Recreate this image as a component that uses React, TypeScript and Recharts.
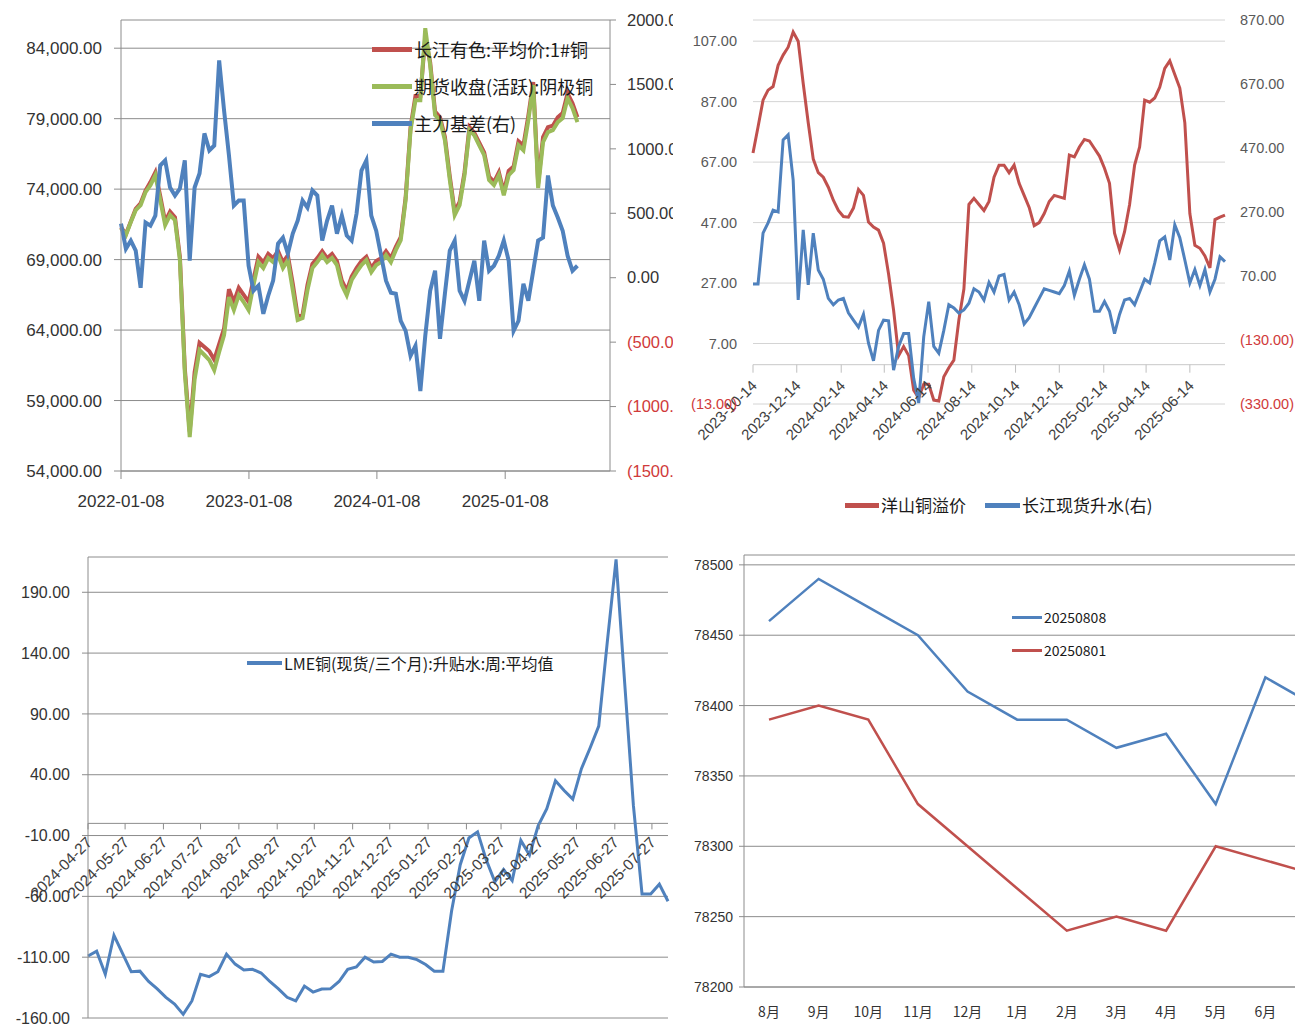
import React from 'react';
import { LineChart, Line, XAxis, YAxis, CartesianGrid, ReferenceLine } from 'recharts';

const NUM_FONT = '"Liberation Sans", Arial, sans-serif';
const CJK_FONT = '"Noto Sans CJK SC", "Liberation Sans", sans-serif';
const RED = '#C0504D';
const GREEN = '#9BBB59';
const BLUE = '#4F81BD';
const NEG_RED = '#D03A3A';

const daysFrom = (start: string, d: string) => Math.round((Date.parse(d) - Date.parse(start)) / 86400000);

// ---- chart 1: 长江有色 / 期货收盘 / 主力基差 (every two weeks from 2022-01-08)
const c1Start = '2022-01-08';
const c1TickLabels = ['2022-01-08', '2023-01-08', '2024-01-08', '2025-01-08'];
const c1LeftTicks = [54000, 59000, 64000, 69000, 74000, 79000, 84000];
const c1RightTicks = [-1500, -1000, -500, 0, 500, 1000, 1500, 2000];
const spotPrice = [
  71300, 70800, 71700, 72600, 73000, 73900, 74500, 75200, 73500, 71700, 72400, 72000, 69200, 61300, 56800, 61000,
  63100, 62800, 62500, 61900, 63000, 64100, 66900, 66000, 67000, 66500, 66000, 67600, 69200, 68800, 69400, 69100,
  69600, 68800, 69300, 67300, 65000, 65100, 67200, 68700, 69100, 69600, 69100, 69400, 68900, 67500, 66800, 67800,
  68400, 68900, 69200, 68400, 68900, 69100, 69600, 69100, 69900, 70600, 73400, 78400, 80600, 80600, 84800, 83000,
  79500, 79100, 77700, 74900, 72400, 73100, 75200, 78400, 78000, 77300, 76600, 74900, 74500, 75200, 73800, 75300,
  75600, 77400, 77100, 79200, 81600, 74400, 77700, 78400, 78500, 79100, 79400, 80800, 80100, 79100,
];
const futuresPrice = [
  71230, 70740, 71660, 72510, 72860, 73790, 74280, 74990, 73220, 71450, 72160, 71800, 68960, 61000, 56400, 60500,
  62580, 62230, 61870, 61160, 62440, 63650, 66340, 65420, 66480, 65990, 65420, 67190, 68820, 68400, 69110, 68820,
  69320, 68400, 68960, 66840, 64710, 64850, 66840, 68400, 68820, 69320, 68820, 69110, 68610, 67190, 66480, 67550,
  68110, 68610, 68960, 68110, 68610, 68820, 69320, 68820, 69670, 70380, 73220, 78180, 80310, 80310, 85420, 82790,
  79250, 78890, 77470, 74640, 72160, 72860, 74990, 78180, 77820, 77110, 76410, 74640, 74280, 74990, 73570, 74990,
  75350, 77110, 76760, 78890, 81380, 74070, 77330, 78040, 78180, 78750, 79040, 80450, 79750, 78750,
];
const mainBasis = [
  420, 225, 288, 210, -78, 428, 404, 482, 871, 910, 700, 638, 692, 910, 132, 700,
  809, 1120, 988, 1026, 1687, 1299, 949, 560, 599, 599, 93, -101, -62, -280, -140, -23,
  264, 311, 187, 342, 443, 599, 544, 677, 638, 288, 443, 560, 342, 482, 327, 288,
  498, 832, 910, 482, 365, 171, -23, -117, -124, -334, -412, -606, -529, -879, -451, -101,
  54, -474, -124, 210, 288, -101, -179, -23, 132, -179, 288, 54, 93, 171, 288, 132,
  -412, -334, -47, -179, 54, 288, 311, 793, 560, 467, 365, 171, 54, 93,
];

// ---- chart 2: 洋山铜溢价 / 长江现货升水 (weekly from 2023-10-14)
const c2Start = '2023-10-14';
const c2TickLabels = [
  '2023-10-14', '2023-12-14', '2024-02-14', '2024-04-14', '2024-06-14', '2024-08-14',
  '2024-10-14', '2024-12-14', '2025-02-14', '2025-04-14', '2025-06-14',
];
const c2LeftTicks = [-13, 7, 27, 47, 67, 87, 107];
const c2RightTicks = [-330, -130, 70, 270, 470, 670, 870];
const yangshanPremium = [
  70, 78.6, 87.5, 90.8, 92, 99, 102.4, 105, 110, 107, 93, 80, 68, 63.5, 62, 58.7,
  54.4, 51, 49, 48.8, 51.8, 58, 56, 47.2, 45.5, 44.5, 40.2, 30, 18, 3, 6, 3,
  -8.4, -11, -6.5, -6.5, -11.7, -12, -4, -1, 1.5, 14.8, 25, 53, 55, 53, 51, 54,
  62, 66, 66, 63.5, 66, 60, 56, 52, 46, 47, 50, 54, 56, 55.5, 55, 69.3,
  68.7, 72, 74.5, 74, 71.5, 69, 65, 60, 43.5, 37.9, 44, 53, 66, 72, 87.5, 86.8,
  88.2, 91.8, 98, 100.5, 96, 91.5, 80, 50, 39.5, 38.5, 36, 32, 48, 48.8, 49.5,
];
const changjiangSpot = [
  45, 45, 204, 236, 276, 270, 495, 511, 370, -5, 214, 42, 204, 89, 60, 0,
  -20, -5, 0, -45, -68, -90, -50, -140, -195, -100, -68, -70, -224, -150, -110, -110,
  -250, -327, -120, -10, -150, -171, -100, -20, -30, -46, -36, -15, 30, 20, -5, 50,
  20, 70, 75, -5, 20, -20, -80, -60, -30, 0, 30, 25, 20, 15, 40, 85,
  10, 60, 105, 60, -40, -40, -10, -40, -110, -50, -5, 0, -20, 20, 60, 48,
  110, 180, 192, 120, 230, 190, 120, 48, 90, 40, 90, 20, 60, 130, 115,
];

// ---- chart 3: LME铜升贴水 (weekly from 2024-04-27)
const c3Start = '2024-04-27';
const c3TickLabels = [
  '2024-04-27', '2024-05-27', '2024-06-27', '2024-07-27', '2024-08-27', '2024-09-27', '2024-10-27', '2024-11-27',
  '2024-12-27', '2025-01-27', '2025-02-27', '2025-03-27', '2025-04-27', '2025-05-27', '2025-06-27', '2025-07-27',
];
const c3YTicks = [-160, -110, -60, -10, 40, 90, 140, 190];
const lmeSpread = [
  -109, -105, -124, -92, -107, -122, -121.5, -130, -136, -143, -148.5, -157, -146, -124, -126, -122,
  -107.5, -115.7, -120.5, -120, -123, -130, -136, -143, -146, -133.8, -138.7, -136.2, -136, -130, -120, -118,
  -110, -114, -113.5, -107.5, -110, -110, -112, -116, -121.5, -121.5, -72, -34, -12, -7, -30, -48,
  -38, -47, -14, -26, -2, 12, 35, 27, 20, 45, 62, 80, 150, 217, 115, 15, -58, -58, -50, -64,
];

// ---- chart 4: 月间结构
const months = ['8月', '9月', '10月', '11月', '12月', '1月', '2月', '3月', '4月', '5月', '6月', '7月'];
const curve0808 = [78460, 78490, 78470, 78450, 78410, 78390, 78390, 78370, 78380, 78330, 78420, 78400];
const curve0801 = [78390, 78400, 78390, 78330, 78300, 78270, 78240, 78250, 78240, 78300, 78290, 78280];
const c4YTicks = [78200, 78250, 78300, 78350, 78400, 78450, 78500];

const c1Ticks = c1TickLabels.map((d) => daysFrom(c1Start, d));
const c2Ticks = c2TickLabels.map((d) => daysFrom(c2Start, d));
const c3Ticks = c3TickLabels.map((d) => daysFrom(c3Start, d));

const c1Data = spotPrice.map((v, i) => ({ day: i * 14, spot: v, fut: futuresPrice[i], basis: mainBasis[i] }));
const c2Data = yangshanPremium.map((v, i) => ({ day: i * 7, premium: v, spot: changjiangSpot[i] }));
const c3Data = lmeSpread.map((v, i) => ({ day: i * 7, spread: v }));
const c4Data = months.map((m, i) => ({ month: m, a: curve0808[i], b: curve0801[i] }));

const moneyFmt = (v: number) => v.toLocaleString('en-US', { minimumFractionDigits: 2, maximumFractionDigits: 2 });

// numbers like Excel accounting format: negatives red in brackets
const AcctTick = (props: any) => {
  const { x, y, payload, textAnchor, size, color } = props;
  const v = Number(payload.value);
  const neg = v < 0;
  const s = neg ? `(${Math.abs(v).toFixed(2)})` : v.toFixed(2);
  return (
    <text x={x} y={y} dy="0.35em" textAnchor={textAnchor} fontSize={size} fontFamily={NUM_FONT} fill={neg ? NEG_RED : color}>
      {s}
    </text>
  );
};

// rotated date labels hanging under an axis that crosses at zero
const makeDateTick = (labels: string[], ticks: number[], zeroY: number, mark: number, size: number, stroke: string) =>
  (props: any) => {
    const { x, payload } = props;
    const label = labels[ticks.indexOf(payload.value)];
    const ax = x + 5;
    const ay = zeroY + mark + 14;
    return (
      <g>
        <line x1={x} x2={x} y1={zeroY} y2={zeroY + mark} stroke={stroke} />
        <text x={ax} y={ay} textAnchor="end" transform={`rotate(-45 ${ax} ${ay})`} fontSize={size} fontFamily={NUM_FONT} fill="#404040">
          {label}
        </text>
      </g>
    );
  };

const LegendRow = ({ left, top, color, len, thick, text, size }: any) => (
  <div style={{ position: 'absolute', left, top: top - 13, height: 26, display: 'flex', alignItems: 'center', whiteSpace: 'nowrap' }}>
    <span style={{ display: 'inline-block', width: len, height: thick, background: color, marginRight: 2 }} />
    <span style={{ fontFamily: CJK_FONT, fontSize: size, color: '#1a1a1a', lineHeight: '26px' }}>{text}</span>
  </div>
);

const ChartOne = () => (
  <div style={{ position: 'absolute', left: 0, top: 0, width: 673, height: 520, overflow: 'hidden' }}>
    <LineChart width={673} height={520} data={c1Data} margin={{ top: 20, right: 0, bottom: 0, left: 0 }}>
      <CartesianGrid vertical={false} stroke="#8C8C8C" yAxisId="left" />
      <XAxis
        dataKey="day"
        type="number"
        domain={[0, 1395]}
        ticks={c1Ticks}
        interval={0}
        height={49}
        tickFormatter={(v: number) => c1TickLabels[c1Ticks.indexOf(v)]}
        tick={{ fill: '#333', fontSize: 17, fontFamily: NUM_FONT }}
        tickSize={8}
        tickMargin={16}
        stroke="#8C8C8C"
      />
      <YAxis
        yAxisId="left"
        domain={[54000, 86000]}
        ticks={c1LeftTicks}
        interval={0}
        width={121}
        allowDataOverflow
        tickFormatter={moneyFmt}
        tick={{ fill: '#333', fontSize: 17, fontFamily: NUM_FONT }}
        tickSize={7}
        tickMargin={12}
        stroke="#8C8C8C"
      />
      <YAxis
        yAxisId="right"
        orientation="right"
        domain={[-1500, 2000]}
        ticks={c1RightTicks}
        interval={0}
        width={63}
        allowDataOverflow
        tick={(p: any) => <AcctTick {...p} size={16.5} color="#333" />}
        tickSize={6}
        tickMargin={11}
        stroke="#8C8C8C"
      />
      <Line yAxisId="left" type="linear" dataKey="spot" stroke={RED} strokeWidth={4} dot={false} activeDot={false} isAnimationActive={false} />
      <Line yAxisId="left" type="linear" dataKey="fut" stroke={GREEN} strokeWidth={4} dot={false} activeDot={false} isAnimationActive={false} />
      <Line yAxisId="right" type="linear" dataKey="basis" stroke={BLUE} strokeWidth={4} dot={false} activeDot={false} isAnimationActive={false} />
    </LineChart>
    <LegendRow left={372} top={49} color={RED} len={40} thick={5} text="长江有色:平均价:1#铜" size={18} />
    <LegendRow left={372} top={86} color={GREEN} len={40} thick={5} text="期货收盘(活跃):阴极铜" size={18} />
    <LegendRow left={372} top={123} color={BLUE} len={40} thick={5} text="主力基差(右)" size={18} />
  </div>
);

const C2_TOP = 20;
const C2_PLOT_H = 384;
const C2_DOMAIN: [number, number] = [-13, 114];
const c2ZeroY = C2_TOP + ((C2_DOMAIN[1] - 0) / (C2_DOMAIN[1] - C2_DOMAIN[0])) * C2_PLOT_H;

const ChartTwo = () => (
  <div style={{ position: 'absolute', left: 680, top: 0, width: 615, height: 530, overflow: 'hidden' }}>
    <LineChart width={615} height={530} data={c2Data} margin={{ top: C2_TOP, right: 0, bottom: 0, left: 0 }}>
      <CartesianGrid vertical={false} stroke="#D4D4D4" yAxisId="left" />
      <XAxis
        dataKey="day"
        type="number"
        domain={[0, 658]}
        ticks={c2Ticks}
        interval={0}
        height={126}
        axisLine={false}
        tickLine={false}
        tick={makeDateTick(c2TickLabels, c2Ticks, c2ZeroY, 8, 15, '#BFBFBF')}
      />
      <YAxis
        yAxisId="left"
        domain={C2_DOMAIN}
        ticks={c2LeftTicks}
        interval={0}
        width={73}
        allowDataOverflow
        axisLine={false}
        tickLine={false}
        tickSize={0}
        tickMargin={16}
        tick={(p: any) => <AcctTick {...p} size={14.5} color="#595959" />}
      />
      <YAxis
        yAxisId="right"
        orientation="right"
        domain={[-330, 870]}
        ticks={c2RightTicks}
        interval={0}
        width={70}
        allowDataOverflow
        axisLine={false}
        tickLine={false}
        tickSize={0}
        tickMargin={15}
        tick={(p: any) => <AcctTick {...p} size={14.5} color="#595959" />}
      />
      <ReferenceLine yAxisId="left" y={0} stroke="#C8C8C8" />
      <Line yAxisId="left" type="linear" dataKey="premium" stroke={RED} strokeWidth={3} dot={false} activeDot={false} isAnimationActive={false} />
      <Line yAxisId="right" type="linear" dataKey="spot" stroke={BLUE} strokeWidth={3} dot={false} activeDot={false} isAnimationActive={false} />
    </LineChart>
    <LegendRow left={165} top={505} color={RED} len={34} thick={5} text="洋山铜溢价" size={17} />
    <LegendRow left={305} top={505} color={BLUE} len={35} thick={5} text="长江现货升水(右)" size={17} />
  </div>
);

const C3_TOP = 17;
const C3_PLOT_H = 461;
const C3_DOMAIN: [number, number] = [-160, 219];
const c3ZeroY = C3_TOP + ((C3_DOMAIN[1] - 0) / (C3_DOMAIN[1] - C3_DOMAIN[0])) * C3_PLOT_H;

const ChartThree = () => (
  <div style={{ position: 'absolute', left: 0, top: 540, width: 680, height: 495, overflow: 'hidden' }}>
    <LineChart width={680} height={495} data={c3Data} margin={{ top: C3_TOP, right: 12, bottom: 0, left: 0 }}>
      <CartesianGrid vertical={false} stroke="#8C8C8C" />
      <XAxis
        dataKey="day"
        type="number"
        domain={[0, 469]}
        ticks={c3Ticks}
        interval={0}
        height={17}
        axisLine={false}
        tickLine={false}
        tick={makeDateTick(c3TickLabels, c3Ticks, c3ZeroY, 6, 15.5, '#8C8C8C')}
      />
      <YAxis
        domain={C3_DOMAIN}
        ticks={c3YTicks}
        interval={0}
        width={88}
        allowDataOverflow
        tickFormatter={(v: number) => v.toFixed(2)}
        tick={{ fill: '#333', fontSize: 16, fontFamily: NUM_FONT }}
        tickSize={6}
        tickMargin={12}
        stroke="#8C8C8C"
      />
      <ReferenceLine y={0} stroke="#8C8C8C" />
      <Line type="linear" dataKey="spread" stroke={BLUE} strokeWidth={3} dot={false} activeDot={false} isAnimationActive={false} />
    </LineChart>
    <LegendRow left={247} top={123} color={BLUE} len={35} thick={4} text="LME铜(现货/三个月):升贴水:周:平均值" size={16} />
  </div>
);

const ChartFour = () => (
  <div style={{ position: 'absolute', left: 680, top: 540, width: 615, height: 495, overflow: 'hidden' }}>
    <LineChart width={660} height={495} data={c4Data} margin={{ top: 15, right: 0, bottom: 0, left: 0 }}>
      <CartesianGrid vertical={false} stroke="#8C8C8C" />
      <XAxis
        dataKey="month"
        interval={0}
        height={48}
        padding={{ left: 25, right: 25 }}
        tick={{ fill: '#333', fontSize: 14, fontFamily: CJK_FONT }}
        tickLine={false}
        tickSize={5}
        tickMargin={15}
        stroke="#8C8C8C"
      />
      <YAxis
        domain={[78200, 78507]}
        ticks={c4YTicks}
        interval={0}
        width={64}
        allowDataOverflow
        tick={{ fill: '#333', fontSize: 14, fontFamily: NUM_FONT }}
        tickSize={5}
        tickMargin={6}
        stroke="#8C8C8C"
      />
      <Line type="linear" dataKey="a" stroke={BLUE} strokeWidth={2.5} dot={false} activeDot={false} isAnimationActive={false} />
      <Line type="linear" dataKey="b" stroke={RED} strokeWidth={2.5} dot={false} activeDot={false} isAnimationActive={false} />
    </LineChart>
    <LegendRow left={332} top={77} color={BLUE} len={30} thick={3} text="20250808" size={14} />
    <LegendRow left={332} top={110} color={RED} len={30} thick={3} text="20250801" size={14} />
  </div>
);

export default function App() {
  return (
    <div style={{ position: 'absolute', left: 0, top: 0, width: 1295, height: 1035, background: '#fff', overflow: 'hidden' }}>
      <ChartOne />
      <ChartTwo />
      <ChartThree />
      <ChartFour />
    </div>
  );
}
